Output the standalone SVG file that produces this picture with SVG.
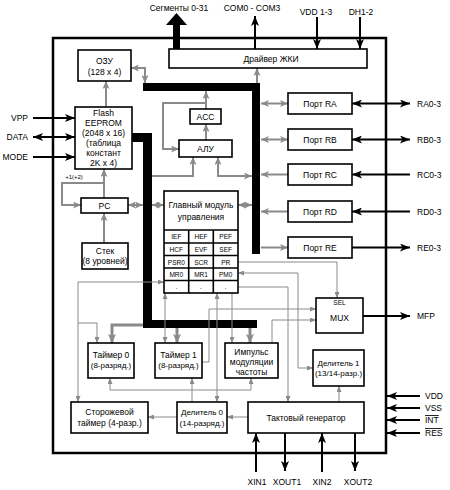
<svg xmlns="http://www.w3.org/2000/svg" width="450" height="490" viewBox="0 0 450 490">
<style>
text{font-family:"Liberation Sans",Arial,sans-serif;font-size:8.5px;fill:#000}
.m{text-anchor:middle}
.r{text-anchor:end}
.n{font-size:8px}
.s{font-size:6.5px}
.xs{font-size:6px}
.box{fill:#fff;stroke:#000;stroke-width:1.6}
.k{fill:none;stroke:#000;stroke-width:2}
.g{fill:none;stroke:#8a8a8a;stroke-width:2}
.gs{fill:none;stroke:#8a8a8a;stroke-width:1}
.gt{fill:none;stroke:#8a8a8a;stroke-width:3}
.bus{fill:#000}
</style>
<defs>
<marker id="ab" viewBox="0 0 10 8" refX="10" refY="4" markerWidth="10" markerHeight="8" markerUnits="userSpaceOnUse" orient="auto-start-reverse"><path d="M0,0 L10,4 L0,8 L2.5,4 z" fill="#000"/></marker>
<marker id="ag" viewBox="0 0 8 7" refX="8" refY="3.5" markerWidth="8" markerHeight="7" markerUnits="userSpaceOnUse" orient="auto-start-reverse"><path d="M0,0 L8,3.5 L0,7 L2,3.5 z" fill="#8a8a8a"/></marker>
<marker id="as" viewBox="0 0 6 5" refX="6" refY="2.5" markerWidth="6" markerHeight="5" markerUnits="userSpaceOnUse" orient="auto-start-reverse"><path d="M0,0 L6,2.5 L0,5 z" fill="#8a8a8a"/></marker>
<marker id="at" viewBox="0 0 9 8" refX="9" refY="4" markerWidth="9" markerHeight="8" markerUnits="userSpaceOnUse" orient="auto-start-reverse"><path d="M0,0 L9,4 L0,8 L2,4 z" fill="#8a8a8a"/></marker>
</defs>
<rect width="450" height="490" fill="#fff"/>

<g id="chip"><rect x="53" y="38" width="333" height="415" fill="none" stroke="#000" stroke-width="2.5"/></g>

<g id="connectors">
<g id="buses">
<polygon class="bus" points="143,83 260,83 260,254 252,254 252,91 143,91"/>
<polygon class="bus" points="132,133 152,133 152,320 257,320 257,328 143,328 143,142 132,142"/>
<rect class="bus" x="173" y="23" width="7" height="26"/>
<polygon class="bus" points="166,25 176.5,13 187,25"/>
</g>
<line class="k" x1="33" y1="118" x2="75" y2="118" marker-end="url(#ab)"/>
<line class="k" x1="33" y1="137" x2="75" y2="137" marker-start="url(#ab)" marker-end="url(#ab)"/>
<line class="k" x1="33" y1="157" x2="75" y2="157" marker-end="url(#ab)"/>
<line class="k" x1="255" y1="49" x2="255" y2="16" marker-end="url(#ab)"/>
<line class="k" x1="317" y1="17" x2="317" y2="49" marker-end="url(#ab)"/>
<line class="k" x1="360" y1="17" x2="360" y2="49" marker-end="url(#ab)"/>
<line class="k" x1="352" y1="103.5" x2="410" y2="103.5" marker-start="url(#ab)" marker-end="url(#ab)"/>
<line class="k" x1="352" y1="139.5" x2="410" y2="139.5" marker-start="url(#ab)" marker-end="url(#ab)"/>
<line class="k" x1="410" y1="174.5" x2="352" y2="174.5" marker-end="url(#ab)"/>
<line class="k" x1="410" y1="211.5" x2="352" y2="211.5" marker-end="url(#ab)"/>
<line class="k" x1="352" y1="247.5" x2="410" y2="247.5" marker-end="url(#ab)"/>
<line class="k" x1="363" y1="316" x2="410" y2="316" marker-end="url(#ab)"/>
<line class="k" x1="420" y1="396" x2="387" y2="396" marker-end="url(#ab)"/>
<line class="k" x1="420" y1="408" x2="387" y2="408" marker-end="url(#ab)"/>
<line class="k" x1="420" y1="420" x2="387" y2="420" marker-end="url(#ab)"/>
<line class="k" x1="420" y1="433" x2="387" y2="433" marker-end="url(#ab)"/>
<line class="k" x1="256" y1="472" x2="256" y2="433" marker-end="url(#ab)"/>
<line class="k" x1="285" y1="433" x2="285" y2="471" marker-end="url(#ab)"/>
<line class="k" x1="322" y1="472" x2="322" y2="433" marker-end="url(#ab)"/>
<line class="k" x1="355" y1="433" x2="355" y2="471" marker-end="url(#ab)"/>
<polyline class="g" points="131,68 145,68 145,83" marker-start="url(#ag)" marker-end="url(#ag)"/>
<line class="g" x1="106" y1="107" x2="106" y2="81" marker-end="url(#ag)"/>
<line class="g" x1="257" y1="83" x2="257" y2="68" marker-end="url(#ag)"/>
<line class="g" x1="206" y1="109" x2="206" y2="91" marker-end="url(#ag)"/>
<line class="g" x1="206" y1="140" x2="206" y2="124" marker-end="url(#ag)"/>
<polyline class="g" points="206,103 163,103 163,149 179,149" marker-end="url(#ag)"/>
<polyline class="g" points="152,176 193,176 193,157" marker-end="url(#ag)"/>
<polyline class="g" points="218,157 218,176 252,176" marker-start="url(#ag)" marker-end="url(#ag)"/>
<line class="g" x1="261" y1="103.5" x2="288" y2="103.5" marker-start="url(#ag)" marker-end="url(#ag)"/>
<line class="g" x1="261" y1="139.5" x2="288" y2="139.5" marker-start="url(#ag)" marker-end="url(#ag)"/>
<line class="g" x1="288" y1="174.5" x2="261" y2="174.5" marker-end="url(#ag)"/>
<line class="g" x1="288" y1="211.5" x2="261" y2="211.5" marker-end="url(#ag)"/>
<line class="g" x1="261" y1="247.5" x2="288" y2="247.5" marker-end="url(#ag)"/>
<line class="g" x1="104" y1="198" x2="104" y2="169" marker-end="url(#ag)"/>
<polyline class="g" points="104,183 62,183 62,205 81,205" marker-end="url(#ag)"/>
<line class="g" x1="104" y1="243" x2="104" y2="213" marker-end="url(#ag)"/>
<line class="g" x1="128" y1="205" x2="143" y2="205" marker-start="url(#ag)" marker-end="url(#ag)"/>
<line class="g" x1="152" y1="205" x2="164" y2="205" marker-start="url(#ag)" marker-end="url(#ag)"/>
<line class="g" x1="238" y1="205" x2="252" y2="205" marker-start="url(#ag)" marker-end="url(#ag)"/>
<polyline class="gt" points="143,325 112,325 112,343" marker-end="url(#at)"/>
<line class="gt" x1="177" y1="328" x2="177" y2="343" marker-end="url(#at)"/>
<line class="gt" x1="250" y1="328" x2="250" y2="343" marker-end="url(#at)"/>
<polyline class="gs" points="238,262 337,262 337,298" marker-end="url(#as)"/>
<polyline class="gs" points="238,273 298,273 298,368 313,368" marker-start="url(#as)" marker-end="url(#as)"/>
<polyline class="gs" points="238,287 288,287 288,402" marker-end="url(#as)"/>
<polyline class="gs" points="202,362 209,362 209,309 316,309" marker-end="url(#as)"/>
<polyline class="gs" points="272,343 272,320 316,320" marker-end="url(#as)"/>
<line class="gs" x1="165" y1="293" x2="165" y2="343" marker-start="url(#as)" marker-end="url(#as)"/>
<line class="gs" x1="217" y1="293" x2="217" y2="402" marker-start="url(#as)" marker-end="url(#as)"/>
<line class="gs" x1="232" y1="293" x2="232" y2="343" marker-end="url(#as)"/>
<polyline class="gs" points="164,282 78,282 78,402" marker-start="url(#as)" marker-end="url(#as)"/>
<polyline class="gs" points="78,323 97,323 97,343" marker-end="url(#as)"/>
<polyline class="gs" points="110,378 110,390 251,390 251,378" marker-start="url(#as)" marker-end="url(#as)"/>
<line class="gs" x1="192" y1="402" x2="192" y2="378" marker-end="url(#as)"/>
<line class="gs" x1="177" y1="417" x2="148" y2="417" marker-end="url(#as)"/>
<line class="gs" x1="248" y1="417" x2="227" y2="417" marker-end="url(#as)"/>
<line class="gs" x1="339" y1="402" x2="339" y2="386" marker-end="url(#as)"/>
</g>

<g id="labels">
<text class="m" x="179" y="11">Сегменты 0-31</text>
<text class="m" x="252" y="11">COM0 - COM3</text>
<text class="m" x="316" y="15">VDD 1-3</text>
<text class="m" x="361" y="15">DH1-2</text>
<text class="r" x="28" y="121">VPP</text>
<text class="r" x="28" y="140">DATA</text>
<text class="r" x="28" y="160">MODE</text>
<text class="xs m" x="74" y="179">+1(+2)</text>
<text x="417" y="106.5">RA0-3</text>
<text x="417" y="142.5">RB0-3</text>
<text x="417" y="177.5">RC0-3</text>
<text x="417" y="214.5">RD0-3</text>
<text x="417" y="250.5">RE0-3</text>
<text x="417" y="319">MFP</text>
<text x="425" y="399">VDD</text>
<text x="425" y="411">VSS</text>
<text x="425" y="423" style="text-decoration:overline">INT</text>
<text x="425" y="436" style="text-decoration:overline">RES</text>
<text class="m" x="257" y="485">XIN1</text>
<text class="m" x="287" y="485">XOUT1</text>
<text class="m" x="322" y="485">XIN2</text>
<text class="m" x="358" y="485">XOUT2</text>
</g>

<g id="lcd"><rect class="box" x="169" y="49" width="198" height="19"/><text class="m" x="271" y="62">Драйвер ЖКИ</text></g>
<g id="ram"><rect class="box" x="78" y="50" width="53" height="31"/><text class="m" x="104.5" y="64">ОЗУ</text><text class="m" x="104.5" y="75">(128 x 4)</text></g>
<g id="flash"><rect class="box" x="75" y="107" width="57" height="62"/>
<text class="m" x="103.5" y="116">Flash</text><text class="m" x="103.5" y="126">EEPROM</text><text class="m" x="103.5" y="136">(2048 x 16)</text><text class="m" x="103.5" y="146">(таблица</text><text class="m" x="103.5" y="156">констант</text><text class="m" x="103.5" y="166">2K x 4)</text></g>
<g id="acc"><rect class="box" x="190" y="109" width="31" height="15"/><text class="m" x="205.5" y="120">ACC</text></g>
<g id="alu"><rect class="box" x="179" y="140" width="53" height="17"/><text class="m" x="205.5" y="152">АЛУ</text></g>
<g id="pc"><rect class="box" x="81" y="198" width="47" height="15" stroke-width="2"/><text class="m" x="104.5" y="209">PC</text></g>
<g id="stack"><rect class="box" x="82" y="243" width="46" height="26"/><text class="m" x="105" y="254">Стек</text><text class="m" x="105" y="264">(8 уровней)</text></g>
<g id="ctrl">
<rect class="box" x="164" y="191" width="74" height="102"/>
<text class="m" x="201" y="208">Главный модуль</text><text class="m" x="201" y="220">управления</text>
<g stroke="#000" stroke-width="1.6"><line x1="164" y1="230" x2="238" y2="230"/><line x1="164" y1="243" x2="238" y2="243"/><line x1="164" y1="255.5" x2="238" y2="255.5"/><line x1="164" y1="268" x2="238" y2="268"/><line x1="164" y1="280.5" x2="238" y2="280.5"/><line x1="188.7" y1="230" x2="188.7" y2="293"/><line x1="213.3" y1="230" x2="213.3" y2="293"/></g>
<text class="s m" x="176.3" y="239">IEF</text><text class="s m" x="201" y="239">HEF</text><text class="s m" x="225.7" y="239">PEF</text>
<text class="s m" x="176.3" y="252">HCF</text><text class="s m" x="201" y="252">EVF</text><text class="s m" x="225.7" y="252">SEF</text>
<text class="s m" x="176.3" y="264.5">PSR0</text><text class="s m" x="201" y="264.5">SCR</text><text class="s m" x="225.7" y="264.5">PR</text>
<text class="s m" x="176.3" y="277">MR0</text><text class="s m" x="201" y="277">MR1</text><text class="s m" x="225.7" y="277">PM0</text>
<text class="s m" x="176.3" y="289">.</text><text class="s m" x="201" y="289">.</text><text class="s m" x="225.7" y="289">.</text>
</g>
<g id="portRA"><rect class="box" x="288" y="93" width="64" height="21"/><text class="m" x="320" y="107">Порт RA</text></g>
<g id="portRB"><rect class="box" x="288" y="129" width="64" height="21"/><text class="m" x="320" y="143">Порт RB</text></g>
<g id="portRC"><rect class="box" x="288" y="164" width="64" height="21"/><text class="m" x="320" y="178">Порт RC</text></g>
<g id="portRD"><rect class="box" x="288" y="201" width="64" height="21"/><text class="m" x="320" y="215">Порт RD</text></g>
<g id="portRE"><rect class="box" x="288" y="237" width="64" height="21"/><text class="m" x="320" y="251">Порт RE</text></g>
<g id="mux"><rect class="box" x="316" y="298" width="47" height="35"/><text class="s m" x="339.5" y="305">SEL</text><text class="m" x="339.5" y="321">MUX</text></g>
<g id="timer0"><rect class="box" x="88" y="343" width="46" height="35"/><text class="m" x="111" y="358">Таймер 0</text><text class="n m" x="111" y="368">(8-разряд.)</text></g>
<g id="timer1"><rect class="box" x="155" y="343" width="47" height="35"/><text class="m" x="178.5" y="358">Таймер 1</text><text class="n m" x="178.5" y="368">(8-разряд.)</text></g>
<g id="pwm"><rect class="box" x="225" y="343" width="53" height="35"/><text class="m" x="251.5" y="355">Импульс</text><text class="m" x="251.5" y="365">модуляции</text><text class="m" x="251.5" y="375">частоты</text></g>
<g id="div1"><rect class="box" x="313" y="350" width="51" height="36"/><text class="n m" x="338.5" y="366">Делитель 1</text><text class="n m" x="338.5" y="376">(13/14-разр.)</text></g>
<g id="wdt"><rect class="box" x="71" y="402" width="77" height="31"/><text class="m" x="109.5" y="415">Сторожевой</text><text class="m" x="109.5" y="426">таймер (4-разр.)</text></g>
<g id="div0"><rect class="box" x="177" y="402" width="50" height="31"/><text class="n m" x="202" y="415">Делитель 0</text><text class="n m" x="202" y="426">(14-разряд.)</text></g>
<g id="osc"><rect class="box" x="248" y="402" width="116" height="31"/><text class="m" x="306" y="421">Тактовый генератор</text></g>
</svg>
